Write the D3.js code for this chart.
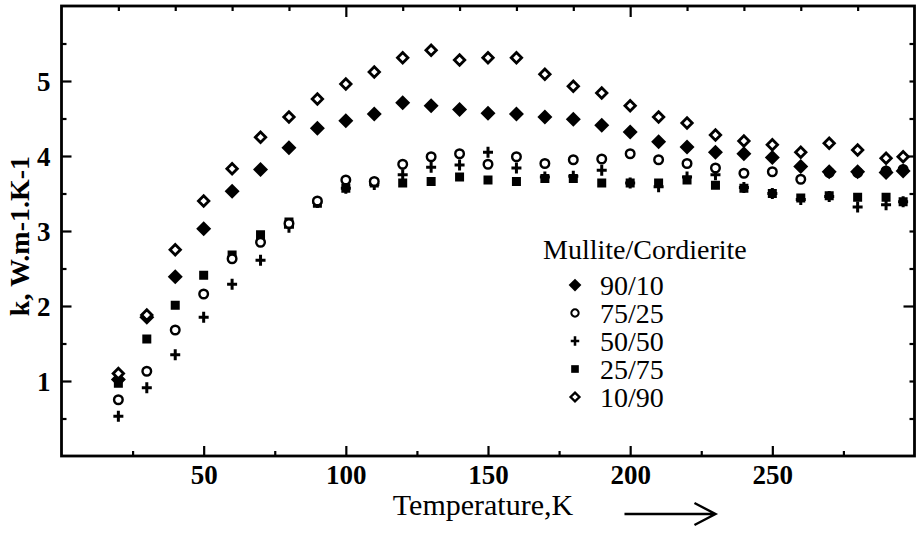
<!DOCTYPE html>
<html>
<head>
<meta charset="utf-8">
<script src="https://cdn.jsdelivr.net/npm/d3@7"></script>
<style>
  html, body { margin: 0; padding: 0; background: #fff; }
  svg { display: block; }
</style>
</head>
<body>
<svg id="chart" width="919" height="534"></svg>
<script>
// ---- data ----
const temperatures = [20,30,40,50,60,70,80,90,100,110,120,130,140,150,160,170,180,190,200,210,220,230,240,250,260,270,280,290,296];
const seriesNames = ["90/10", "75/25", "50/50", "25/75", "10/90"];
const k_90_10 = [1.02,1.85,2.39,3.03,3.53,3.82,4.11,4.37,4.47,4.56,4.71,4.67,4.62,4.57,4.56,4.52,4.49,4.41,4.32,4.19,4.12,4.05,4.03,3.98,3.86,3.79,3.79,3.78,3.80];
const k_75_25 = [0.75,1.13,1.68,2.16,2.63,2.85,3.10,3.40,3.68,3.66,3.89,3.99,4.03,3.89,3.99,3.90,3.95,3.96,4.03,3.95,3.90,3.84,3.77,3.79,3.69,3.78,3.78,3.80,3.82];
const k_50_50 = [0.53,0.91,1.35,1.85,2.29,2.61,3.05,3.38,3.57,3.62,3.75,3.85,3.88,4.05,3.84,3.72,3.73,3.81,3.64,3.59,3.72,3.75,3.58,3.50,3.42,3.46,3.32,3.35,3.39];
const k_25_75 = [0.97,1.56,2.01,2.41,2.68,2.95,3.12,3.37,3.57,3.64,3.64,3.66,3.72,3.68,3.66,3.70,3.70,3.64,3.64,3.64,3.68,3.61,3.57,3.50,3.44,3.47,3.45,3.45,3.39];
const k_10_90 = [1.10,1.88,2.75,3.40,3.83,4.25,4.52,4.76,4.96,5.12,5.31,5.41,5.28,5.31,5.31,5.09,4.93,4.84,4.67,4.52,4.44,4.28,4.20,4.15,4.05,4.17,4.08,3.97,3.99];
const xMajorTicks = [50,100,150,200,250];
const xMinorTicks = [25,75,125,175,225,275];
const topTicks = [20,40,60,80,120,140,160,180,220,240,260,280];
const topLongTicks = [100,200];
const yMajorTicks = [1,2,3,4,5];
const yMinorTicks = [0.5,1.5,2.5,3.5,4.5,5.5];
const rightTicks = [0.5,1,1.5,2.5,3,3.5,4.5,5,5.5];
const rightLongTicks = [2,4];
const legendTitle = "Mullite/Cordierite";
const xTitle = "Temperature,K";
const yTitle = "k, W.m-1.K-1";

const FONT = "'Liberation Serif', 'Times New Roman', Times, 'DejaVu Serif', serif";

// ---- layout ----
const svg = d3.select("#chart");
const mLeft = 61.5, mRight = 914.5, mTop = 6, mBottom = 456;
const x = d3.scaleLinear().domain([0, 300]).range([mLeft, mRight]);
const y = d3.scaleLinear().domain([0, 6]).range([mBottom, mTop]);

// marker shapes
const shapes = {
  "90/10": (g, s) => g.append("path").attr("d", `M0,${-7.5*s}L${7.5*s},0L0,${7.5*s}L${-7.5*s},0Z`).attr("fill", "#000"),
  "75/25": (g, s) => g.append("circle").attr("r", 4.3*s).attr("fill", "#fff").attr("stroke", "#000").attr("stroke-width", 2.4*s),
  "50/50": (g, s) => g.append("path").attr("d", `M${-5*s},0H${5*s}M0,${-5.5*s}V${5.5*s}`).attr("stroke", "#000").attr("stroke-width", 3*s).attr("fill", "none"),
  "25/75": (g, s) => g.append("rect").attr("x", -4.5*s).attr("y", -4.5*s).attr("width", 9*s).attr("height", 9*s).attr("fill", "#000"),
  "10/90": (g, s) => g.append("path").attr("d", `M0,${-5.2*s}L${5.2*s},0L0,${5.2*s}L${-5.2*s},0Z`).attr("fill", "#fff").attr("stroke", "#000").attr("stroke-width", 2.8*s)
};

const seriesValues = {"90/10": k_90_10, "75/25": k_75_25, "50/50": k_50_50, "25/75": k_25_75, "10/90": k_10_90};
const drawOrder = ["25/75", "50/50", "75/25", "90/10", "10/90"];

// ---- axes (frame with inward ticks) ----
const axG = svg.append("g");
function styleAxis(g) {
  g.select(".domain").remove();
  g.selectAll(".tick line").attr("stroke", "#000").attr("stroke-width", 2.2);
}
axG.append("g").attr("transform", `translate(0,${mBottom})`)
  .call(d3.axisBottom(x).tickValues(xMajorTicks).tickSize(-10).tickFormat(d3.format("d")))
  .call(styleAxis)
  .call(g => g.selectAll(".tick text").attr("font-size", 27).attr("font-weight", "bold").attr("dy", null).attr("y", 28));
axG.append("g").attr("transform", `translate(0,${mBottom})`)
  .call(d3.axisBottom(x).tickValues(xMinorTicks).tickSize(-5).tickFormat(""))
  .call(styleAxis);
axG.append("g").attr("transform", `translate(0,${mTop})`)
  .call(d3.axisTop(x).tickValues(topTicks).tickSize(-5).tickFormat(""))
  .call(styleAxis);
axG.append("g").attr("transform", `translate(0,${mTop})`)
  .call(d3.axisTop(x).tickValues(topLongTicks).tickSize(-11).tickFormat(""))
  .call(styleAxis);
axG.append("g").attr("transform", `translate(${mLeft},0)`)
  .call(d3.axisLeft(y).tickValues(yMajorTicks).tickSize(-10).tickFormat(d3.format("d")))
  .call(styleAxis)
  .call(g => g.selectAll(".tick text").attr("font-size", 27).attr("font-weight", "bold").attr("x", -11).attr("dy", "0.34em"));
axG.append("g").attr("transform", `translate(${mLeft},0)`)
  .call(d3.axisLeft(y).tickValues(yMinorTicks).tickSize(-5).tickFormat(""))
  .call(styleAxis);
axG.append("g").attr("transform", `translate(${mRight},0)`)
  .call(d3.axisRight(y).tickValues(rightTicks).tickSize(-5).tickFormat(""))
  .call(styleAxis);
axG.append("g").attr("transform", `translate(${mRight},0)`)
  .call(d3.axisRight(y).tickValues(rightLongTicks).tickSize(-11).tickFormat(""))
  .call(styleAxis);
svg.append("rect").attr("x", mLeft).attr("y", mTop).attr("width", mRight - mLeft).attr("height", mBottom - mTop)
  .attr("fill", "none").attr("stroke", "#000").attr("stroke-width", 2.8);

// ---- data points ----
drawOrder.forEach(name => {
  const vals = seriesValues[name];
  const g = svg.append("g").attr("class", "series");
  temperatures.forEach((t, i) => {
    const p = g.append("g").attr("transform", `translate(${x(t)},${y(vals[i])})`);
    shapes[name](p, 1);
  });
});

// ---- legend ----
const lg = svg.append("g");
lg.append("text").attr("x", 543).attr("y", 259).attr("font-size", 28).text(legendTitle);
seriesNames.forEach((name, i) => {
  const cy = 285 + i * 28;
  const p = lg.append("g").attr("transform", `translate(575,${cy})`);
  shapes[name](p, 0.85);
  lg.append("text").attr("x", 600).attr("y", cy + 10).attr("font-size", 28).text(name);
});

// ---- axis titles ----
svg.append("text").attr("x", 483).attr("y", 515).attr("text-anchor", "middle").attr("font-size", 30).text(xTitle);
svg.append("text").attr("transform", `translate(29,236) rotate(-90)`).attr("text-anchor", "middle")
  .attr("font-size", 28).attr("font-weight", "bold").text(yTitle);

// arrow
const ay = 514, ax0 = x(198), ax1 = x(230);
svg.append("path").attr("d", `M${ax0},${ay}H${ax1}M${ax1 - 21},${ay - 11}L${ax1},${ay}L${ax1 - 21},${ay + 11}`)
  .attr("fill", "none").attr("stroke", "#000").attr("stroke-width", 2.4);

svg.selectAll("text").style("font-family", FONT).attr("fill", "#000");
</script>
</body>
</html>
